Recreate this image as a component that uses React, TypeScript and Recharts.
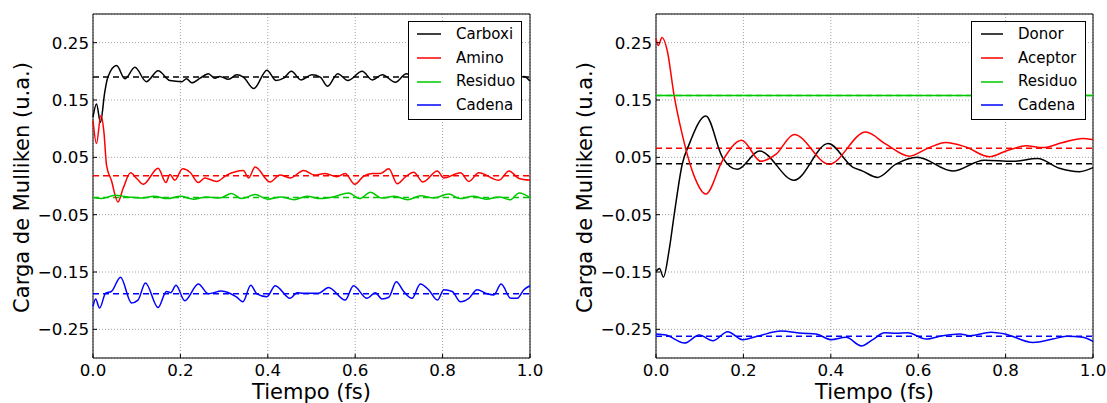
import React from 'react';
import { LineChart, Line, XAxis, YAxis, CartesianGrid, ReferenceLine, ReferenceArea } from 'recharts';

const timeTicks = [0, 0.2, 0.4, 0.6, 0.8, 1.0];
const chargeTicks = [-0.25, -0.15, -0.05, 0.05, 0.15, 0.25];

// Left panel
const carboxiT = [0, 0.008, 0.017, 0.027, 0.034, 0.054, 0.073, 0.096, 0.122, 0.149, 0.176, 0.203, 0.214, 0.226, 0.245, 0.264, 0.279, 0.29, 0.31, 0.329, 0.344, 0.368, 0.398, 0.419, 0.436, 0.454, 0.476, 0.501, 0.52, 0.537, 0.56, 0.583, 0.616, 0.639, 0.662, 0.692, 0.717, 0.745, 0.772, 0.8, 0.83, 0.858, 0.886, 0.915, 0.945, 0.968, 0.986, 1.0];
const carboxiV = [0.12, 0.143, 0.111, 0.164, 0.19, 0.21, 0.187, 0.207, 0.182, 0.201, 0.184, 0.182, 0.187, 0.18, 0.188, 0.196, 0.188, 0.191, 0.186, 0.194, 0.19, 0.17, 0.202, 0.184, 0.188, 0.2, 0.185, 0.194, 0.19, 0.174, 0.196, 0.184, 0.2, 0.185, 0.194, 0.181, 0.196, 0.184, 0.197, 0.186, 0.194, 0.183, 0.196, 0.185, 0.193, 0.186, 0.191, 0.183];

const aminoT = [0, 0.008, 0.018, 0.025, 0.031, 0.042, 0.057, 0.069, 0.086, 0.1, 0.115, 0.149, 0.167, 0.176, 0.187, 0.205, 0.222, 0.241, 0.256, 0.283, 0.306, 0.344, 0.356, 0.371, 0.405, 0.428, 0.451, 0.482, 0.508, 0.531, 0.558, 0.577, 0.599, 0.619, 0.639, 0.658, 0.677, 0.696, 0.715, 0.734, 0.755, 0.788, 0.803, 0.841, 0.86, 0.883, 0.929, 0.952, 0.975, 1.0];
const aminoV = [0.114, 0.074, 0.123, 0.094, 0.036, 0.01, -0.028, -0.004, 0.023, 0.013, 0.003, 0.031, 0.006, 0.02, 0.01, 0.03, 0.024, 0.006, 0.014, 0.008, 0.019, 0.027, 0.014, 0.033, 0.007, 0.019, 0.014, 0.027, 0.019, 0.022, 0.016, 0.022, 0.003, 0.017, 0.022, 0.022, 0.03, 0.004, 0.016, 0.024, 0.007, 0.026, 0.014, 0.023, 0.008, 0.023, 0.01, 0.026, 0.013, 0.01];

const residuoLT = [0, 0.02, 0.05, 0.08, 0.11, 0.14, 0.17, 0.2, 0.23, 0.26, 0.29, 0.317, 0.34, 0.371, 0.4, 0.43, 0.46, 0.49, 0.52, 0.55, 0.585, 0.61, 0.635, 0.66, 0.69, 0.72, 0.75, 0.78, 0.814, 0.84, 0.87, 0.9, 0.93, 0.955, 0.975, 1.0];
const residuoLV = [-0.02, -0.022, -0.016, -0.019, -0.021, -0.018, -0.022, -0.018, -0.023, -0.019, -0.021, -0.013, -0.022, -0.015, -0.023, -0.019, -0.024, -0.018, -0.022, -0.019, -0.012, -0.022, -0.011, -0.021, -0.018, -0.024, -0.017, -0.021, -0.014, -0.022, -0.018, -0.023, -0.019, -0.024, -0.012, -0.02];

const cadenaLT = [0, 0.006, 0.015, 0.029, 0.042, 0.063, 0.088, 0.103, 0.12, 0.149, 0.168, 0.178, 0.19, 0.21, 0.241, 0.264, 0.294, 0.329, 0.343, 0.361, 0.375, 0.398, 0.417, 0.451, 0.467, 0.482, 0.497, 0.516, 0.539, 0.577, 0.596, 0.627, 0.646, 0.661, 0.677, 0.694, 0.711, 0.73, 0.749, 0.768, 0.788, 0.803, 0.822, 0.841, 0.86, 0.879, 0.902, 0.917, 0.934, 0.956, 0.971, 0.986, 1.0];
const cadenaLV = [-0.21, -0.197, -0.213, -0.187, -0.184, -0.159, -0.204, -0.199, -0.169, -0.212, -0.184, -0.186, -0.173, -0.2, -0.171, -0.188, -0.183, -0.194, -0.202, -0.173, -0.188, -0.193, -0.174, -0.196, -0.186, -0.187, -0.187, -0.187, -0.177, -0.199, -0.174, -0.196, -0.186, -0.197, -0.194, -0.167, -0.184, -0.196, -0.171, -0.181, -0.199, -0.181, -0.184, -0.202, -0.196, -0.181, -0.188, -0.19, -0.171, -0.196, -0.196, -0.181, -0.174];

const leftMeans = [0.19, 0.018, -0.02, -0.188];

// Right panel
const donorT = [0, 0.008, 0.017, 0.03, 0.042, 0.06, 0.076, 0.114, 0.152, 0.186, 0.237, 0.316, 0.394, 0.45, 0.473, 0.507, 0.549, 0.598, 0.679, 0.751, 0.816, 0.873, 0.923, 0.969, 1.0];
const donorV = [-0.149, -0.144, -0.159, -0.112, -0.048, 0.038, 0.073, 0.122, 0.05, 0.029, 0.061, 0.01, 0.074, 0.033, 0.026, 0.015, 0.038, 0.05, 0.026, 0.045, 0.043, 0.048, 0.031, 0.025, 0.032];

const aceptorT = [0, 0.005, 0.014, 0.026, 0.041, 0.06, 0.085, 0.114, 0.152, 0.196, 0.24, 0.274, 0.316, 0.396, 0.48, 0.526, 0.579, 0.625, 0.663, 0.709, 0.763, 0.801, 0.847, 0.885, 0.931, 0.976, 1.0];
const aceptorV = [0.257, 0.245, 0.259, 0.235, 0.16, 0.09, 0.022, -0.014, 0.044, 0.08, 0.043, 0.055, 0.09, 0.038, 0.094, 0.073, 0.052, 0.067, 0.076, 0.068, 0.051, 0.061, 0.07, 0.067, 0.076, 0.083, 0.081];

const residuoRT = [0, 1.0];
const residuoRV = [0.158, 0.158];

const cadenaRT = [0, 0.023, 0.065, 0.099, 0.13, 0.164, 0.198, 0.237, 0.286, 0.336, 0.366, 0.4, 0.435, 0.47, 0.496, 0.523, 0.55, 0.576, 0.618, 0.656, 0.695, 0.718, 0.767, 0.798, 0.863, 0.908, 0.939, 0.977, 1.0];
const cadenaRV = [-0.258, -0.26, -0.274, -0.26, -0.27, -0.254, -0.268, -0.261, -0.253, -0.257, -0.258, -0.268, -0.264, -0.279, -0.268, -0.256, -0.257, -0.256, -0.267, -0.261, -0.258, -0.261, -0.255, -0.258, -0.273, -0.267, -0.262, -0.264, -0.271];

const rightMeans = [0.039, 0.066, 0.158, -0.262];

const leftNames = ['Carboxi', 'Amino', 'Residuo', 'Cadena'];
const rightNames = ['Donor', 'Aceptor', 'Residuo', 'Cadena'];
const colors = ['#000000', '#ff0000', '#00c800', '#0000ff'];

const zip = (ts: number[], vs: number[]) => ts.map((t, i) => ({ t, v: vs[i] }));

const leftSeries = [zip(carboxiT, carboxiV), zip(aminoT, aminoV), zip(residuoLT, residuoLV), zip(cadenaLT, cadenaLV)];
const rightSeries = [zip(donorT, donorV), zip(aceptorT, aceptorV), zip(residuoRT, residuoRV), zip(cadenaRT, cadenaRV)];

const FONT = "'DejaVu Sans', sans-serif";
const TICK_FS = 16.7;
const fmtY = (v: number) => (v < 0 ? '\u2212' : '') + Math.abs(v).toFixed(2);
const fmtX = (v: number) => v.toFixed(1);

type PanelProps = {
  x: number;
  series: { t: number; v: number }[][];
  means: number[];
  names: string[];
  legendLeft: number;
  legendWidth: number;
  sampleMargin: number;
  sampleWidth: number;
};

const tickStyle = { fontSize: TICK_FS, fill: '#000', fontFamily: FONT };

function Panel({ x, series, means, names, legendLeft, legendWidth, sampleMargin, sampleWidth }: PanelProps) {
  const W = 570;
  const H = 403;
  return (
    <div style={{ position: 'absolute', left: x, top: 0, width: W, height: H, fontFamily: FONT }}>
      <LineChart width={W} height={H} margin={{ top: 13, right: 39, bottom: 0, left: 0 }} style={{ fontFamily: FONT }}>
        <CartesianGrid stroke="#8a8a8a" strokeDasharray="1 2" strokeWidth={0.8} />
        <XAxis
          type="number"
          dataKey="t"
          domain={[0, 1]}
          ticks={timeTicks}
          interval={0}
          height={45}
          tickSize={-4}
          tickMargin={10}
          axisLine={false}
          tickLine={{ stroke: '#000' }}
          fontSize={TICK_FS}
          fontFamily={FONT}
          tick={tickStyle}
          tickFormatter={fmtX}
        />
        <XAxis
          xAxisId="top"
          orientation="top"
          type="number"
          domain={[0, 1]}
          ticks={timeTicks}
          interval={0}
          height={1}
          tickSize={-4}
          axisLine={false}
          tickLine={{ stroke: '#000' }}
          tick={false}
        />
        <YAxis
          type="number"
          domain={[-0.3, 0.3]}
          ticks={chargeTicks}
          interval={0}
          allowDataOverflow
          width={93}
          tickSize={-4}
          tickMargin={8}
          axisLine={false}
          tickLine={{ stroke: '#000' }}
          fontSize={TICK_FS}
          fontFamily={FONT}
          tick={tickStyle}
          tickFormatter={fmtY}
        />
        <YAxis
          yAxisId="r"
          orientation="right"
          type="number"
          domain={[-0.3, 0.3]}
          ticks={chargeTicks}
          interval={0}
          width={1}
          tickSize={-4}
          axisLine={false}
          tickLine={{ stroke: '#000' }}
          tick={false}
        />
        {means.map((m, i) => (
          <ReferenceLine key={'m' + i} y={m} stroke={colors[i]} strokeWidth={1.5} strokeDasharray="6 4" />
        ))}
        {series.map((d, i) => (
          <Line
            key={'s' + i}
            data={d}
            dataKey="v"
            type="monotone"
            stroke={colors[i]}
            strokeWidth={1.5}
            dot={false}
            activeDot={false}
            isAnimationActive={false}
          />
        ))}
        <ReferenceArea x1={0} x2={1} y1={-0.3} y2={0.3} fill="none" fillOpacity={0} stroke="#000" strokeWidth={1} />
      </LineChart>
      <svg width={W} height={H} style={{ position: 'absolute', left: 0, top: 0, pointerEvents: 'none' }}>
        <text x={311.5} y={398.5} textAnchor="middle" fontFamily={FONT} fontSize={21} fill="#000">
          Tiempo (fs)
        </text>
        <text transform="translate(28.5,187.5) rotate(-90)" textAnchor="middle" fontFamily={FONT} fontSize={21} fill="#000">
          Carga de Mulliken (u.a.)
        </text>
      </svg>
      <div
        style={{
          position: 'absolute',
          left: legendLeft,
          top: 21,
          width: legendWidth,
          height: 99,
          boxSizing: 'border-box',
          border: '1px solid #000',
          background: '#fff',
          fontFamily: FONT,
          fontSize: '15px',
          color: '#000',
          paddingTop: 0.5,
        }}
      >
        {names.map((n, i) => (
          <div key={n} style={{ height: 23.7, display: 'flex', alignItems: 'center' }}>
            <svg width={sampleWidth} height={4} style={{ marginLeft: sampleMargin, display: 'block' }}>
              <line x1={0} y1={2} x2={sampleWidth} y2={2} stroke={colors[i]} strokeWidth={1.5} />
            </svg>
            <span style={{ marginLeft: 15, lineHeight: '17px', fontSize: '15px', fontFamily: FONT, whiteSpace: 'nowrap' }}>{n}</span>
          </div>
        ))}
      </div>
    </div>
  );
}

export default function App() {
  return (
    <div style={{ position: 'absolute', left: 0, top: 0, width: 1107, height: 403, background: '#fff', overflow: 'hidden', fontFamily: FONT }}>
      <Panel x={0} series={leftSeries} means={leftMeans} names={leftNames} legendLeft={408} legendWidth={114} sampleMargin={8} sampleWidth={24} />
      <Panel x={563} series={rightSeries} means={rightMeans} names={rightNames} legendLeft={408} legendWidth={115} sampleMargin={9} sampleWidth={22} />
    </div>
  );
}
